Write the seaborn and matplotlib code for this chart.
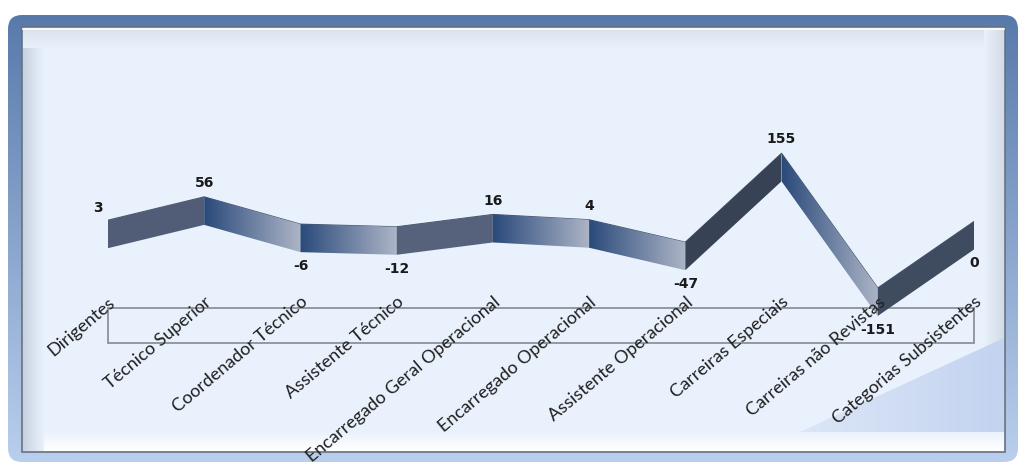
import numpy as np
import pandas as pd
import matplotlib
matplotlib.use("Agg")
import matplotlib.pyplot as plt
import matplotlib.transforms as mtransforms
import seaborn as sns
from matplotlib.colors import to_rgb
from matplotlib.patches import Polygon, Rectangle, FancyBboxPatch

# Data
categories = ["Dirigentes", "Técnico Superior", "Coordenador Técnico", "Assistente Técnico",
              "Encarregado Geral Operacional", "Encarregado Operacional", "Assistente Operacional",
              "Carreiras Especiais", "Carreiras não Revistas", "Categorias Subsistentes"]
values = [3, 56, -6, -12, 16, 4, -47, 155, -151, 0]

sns.set_style("white")
plt.rcParams['font.family'] = ['DejaVu Sans']

W, H = 1024, 472
fig = plt.figure(figsize=(W / 100, H / 100), dpi=100)
fig.patch.set_facecolor("white")


def gradient(ax, x0, x1, y0, y1, c0, c1, horizontal=True, clip=None, zorder=1, origin="upper"):
    # c0 -> c1 from left to right (horizontal) or from first row to last row (vertical)
    g = np.linspace(0, 1, 256)[:, None]
    cols = np.array(to_rgb(c0))[None, :] * (1 - g) + np.array(to_rgb(c1))[None, :] * g
    img = cols[None, :, :] if horizontal else cols[:, None, :]
    im = ax.imshow(img, extent=[x0, x1, y0, y1], aspect="auto", origin=origin,
                   interpolation="bilinear", zorder=zorder)
    if clip is not None:
        im.set_clip_path(clip)
    return im


# =============================================================================
# Background frame (pixel coordinates, y pointing down)
# =============================================================================
bg = fig.add_axes([0, 0, 1, 1], zorder=0)
bg.axis("off")

frame = FancyBboxPatch((8, 15), 1010, 447, boxstyle="round,pad=0,rounding_size=14",
                       fc="none", ec="none")
bg.add_patch(frame)
gradient(bg, 8, 1018, 462, 15, "#587aab", "#bacfee", horizontal=False, clip=frame)

# inner panel
bg.add_patch(Rectangle((22, 27), 983, 425, fc="#e9f1fc", ec="#66717f", lw=1.2, zorder=2))
gradient(bg, 23, 44, 451, 28, "#c8d1e0", "#e9f1fc", zorder=3)
gradient(bg, 23, 1004, 48, 28, "#d9e1ed", "#e9f1fc", horizontal=False, zorder=3)
gradient(bg, 984, 1004, 451, 28, "#e9f1fc", "#d3dbe7", zorder=3)
gradient(bg, 44, 1004, 451, 430, "#e9f1fc", "#ffffff", horizontal=False, zorder=3)
bg.plot([23, 1004], [29, 29], color="#f7f9fc", lw=1.5, zorder=4)

# light triangle in the lower right corner
tri = Polygon([(800, 432), (1004, 338), (1004, 432)], closed=True, fc="none", ec="none")
bg.add_patch(tri)
gradient(bg, 800, 1004, 432, 338, "#dce6f7", "#c3d3f0", clip=tri, zorder=4)

bg.set_xlim(0, W)
bg.set_ylim(H, 0)

# =============================================================================
# Ribbon line chart
# =============================================================================
ax = fig.add_axes([108 / W, 1 - 353.5 / H, 866 / W, 308 / H], zorder=2)
ax.patch.set_alpha(0)
for s in ax.spines.values():
    s.set_visible(False)
ax.set_yticks([])

px_per_unit = 308 / 700
thick = 28 / px_per_unit

df = pd.DataFrame({"idx": np.arange(len(values)), "value": values})

# floor box
floor_tr = mtransforms.blended_transform_factory(ax.transData, ax.transAxes)
ax.add_patch(Rectangle((0, 0.034), len(values) - 1, 0.114, transform=floor_tr,
                       fill=False, ec="#8d9299", lw=1.3, zorder=1, clip_on=False))

sns.lineplot(data=df, x="idx", y="value", ax=ax, color="#4a566d", linewidth=0.8, zorder=2)

for i in range(len(values) - 1):
    x0, x1 = i, i + 1
    y0, y1 = values[i], values[i + 1]
    poly = Polygon([(x0, y0), (x1, y1), (x1, y1 - thick), (x0, y0 - thick)], closed=True,
                   fc="none", ec="none", zorder=3)
    ax.add_patch(poly)
    if y1 > y0:
        slope = (y1 - y0) * px_per_unit / 96
        f = min(1.0, slope / 0.9)
        c = np.array(to_rgb("#5b6782")) * (1 - f) + np.array(to_rgb("#374255")) * f
        poly.set_facecolor(c)
    else:
        lo = min(y0, y1) - thick
        hi = max(y0, y1)
        gradient(ax, x0, x1, lo, hi, "#2a4a7a", "#adb5c7", clip=poly, zorder=3, origin="lower")

ax.set_xlim(0, len(values) - 1)
ax.set_ylim(-300, 400)

# data labels
for i, v in enumerate(values):
    if i == 0:
        ax.annotate(str(v), (i, v), xytext=(-7, 9), textcoords="offset points",
                    ha="center", va="center", fontsize=10, fontweight="bold", color="#1a1a1a")
    elif v > 0:
        ax.annotate(str(v), (i, v), xytext=(0, 10), textcoords="offset points",
                    ha="center", va="center", fontsize=10, fontweight="bold", color="#1a1a1a")
    else:
        ax.annotate(str(v), (i, v - thick), xytext=(0, -10), textcoords="offset points",
                    ha="center", va="center", fontsize=10, fontweight="bold", color="#1a1a1a")

ax.set_xticks(range(len(categories)))
ax.set_xticklabels(categories, rotation=40, ha="right", rotation_mode="anchor",
                   fontsize=13, family=["Lato", "DejaVu Sans"], color="#1f1f1f")
ax.tick_params(axis="x", length=0, pad=-43)
ax.xaxis.set_zorder(5)
ax.set_xlabel("")
ax.set_ylabel("")

fig.savefig("out.png", dpi=100)
